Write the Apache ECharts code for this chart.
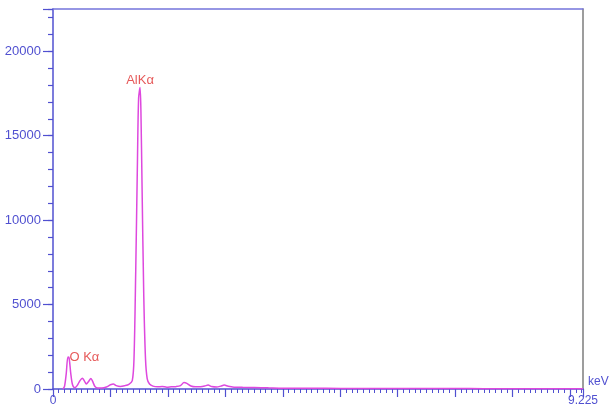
<!DOCTYPE html>
<html>
<head>
<meta charset="utf-8">
<script src="https://cdn.jsdelivr.net/npm/echarts@6/dist/echarts.min.js"></script>
<style>
  html, body { margin: 0; padding: 0; background: #ffffff; }
  #chart { width: 612px; height: 410px; }
</style>
</head>
<body>
<div id="chart"></div>
<script>
// EDS spectrum: energy (keV) vs counts
const energyKeV = [
  0.17, 0.20, 0.23, 0.26, 0.28, 0.31, 0.34, 0.38, 0.42, 0.47,
  0.51, 0.55, 0.58, 0.62, 0.66, 0.69, 0.73, 0.78, 0.85, 0.93,
  1.00, 1.05, 1.10, 1.17, 1.25, 1.32, 1.38, 1.41, 1.44, 1.47,
  1.49, 1.515, 1.53, 1.55, 1.58, 1.61, 1.64, 1.68, 1.74, 1.82,
  1.90, 1.98, 2.06, 2.14, 2.22, 2.28, 2.33, 2.40, 2.48, 2.57,
  2.64, 2.70, 2.76, 2.85, 2.92, 2.98, 3.05, 3.15, 3.30, 3.50,
  3.75, 4.00, 4.50, 5.00, 5.50, 6.00, 6.50, 7.00, 7.50, 8.00,
  8.50, 9.00, 9.225
];
const counts = [
  0, 150, 900, 1900, 1850, 900, 250, 80, 200, 500,
  640, 450, 300, 450, 620, 450, 150, 60, 60, 120,
  250, 300, 200, 150, 200, 280, 500, 1800, 7000, 13500,
  17200, 17850, 16500, 12000, 5500, 1800, 600, 300, 170, 130,
  150, 110, 130, 140, 200, 380, 330, 180, 130, 140,
  180, 230, 150, 120, 170, 230, 160, 110, 100, 90,
  70, 50, 40, 35, 30, 30, 25, 25, 20, 20,
  20, 15, 15
];

// Peak identifications
const peakNames = ['AlKα', 'O Kα'];
const peakEnergy = [1.515, 0.26];
const peakCounts = [17850, 1900];

// Axis settings
const xMax = 9.225;
const yMax = 22500;
const xEndLabels = ['0', '9.225'];

const blue = '#5050d0';
const magenta = '#de48de';
const red = '#e03030';
const fontFamily = 'Liberation Sans, Arial, sans-serif';

const spectrum = energyKeV.map((e, i) => [e, counts[i]]);
const peaks = peakNames.map((n, i) => ({
  value: [peakEnergy[i], peakCounts[i]],
  name: n,
  label: i === 0
    ? { position: 'top', distance: 0 }
    : { position: 'right', distance: 1, offset: [0, 1] }
}));

const chart = echarts.init(document.getElementById('chart'), null, { renderer: 'canvas' });

chart.setOption({
  animation: false,
  backgroundColor: '#ffffff',
  grid: { left: 53, right: 29, top: 9, bottom: 21, containLabel: false },
  xAxis: [
    {
      type: 'value', position: 'bottom', min: 0, max: xMax, interval: 1,
      name: 'keV', nameLocation: 'end', nameGap: 5,
      nameTextStyle: { color: blue, fontSize: 12, fontFamily: fontFamily, verticalAlign: 'bottom', padding: [0, 0, 1, 0] },
      axisLine: { show: true, onZero: false, lineStyle: { color: blue, width: 1.5 } },
      axisTick: { show: true, inside: false, length: 8, lineStyle: { color: blue, width: 1.2 } },
      axisLabel: {
        show: true, margin: 6, color: blue, fontSize: 12, fontFamily: fontFamily,
        showMinLabel: true, showMaxLabel: true,
        formatter: function (v) {
          if (Math.abs(v) < 1e-9) return xEndLabels[0];
          if (Math.abs(v - xMax) < 1e-9) return xEndLabels[1];
          return '';
        }
      },
      splitLine: { show: false }
    },
    {
      type: 'value', position: 'bottom', min: 0, max: xMax, interval: 0.1,
      axisLine: { show: false, onZero: false },
      axisTick: { show: true, inside: false, length: 4, lineStyle: { color: blue, width: 1 } },
      axisLabel: { show: false },
      splitLine: { show: false }
    },
    {
      type: 'value', position: 'top', min: 0, max: xMax,
      axisLine: { show: true, onZero: false, lineStyle: { color: '#7474dc', width: 1.5 } },
      axisTick: { show: false }, axisLabel: { show: false }, splitLine: { show: false }
    }
  ],
  yAxis: [
    {
      type: 'value', position: 'left', min: 0, max: yMax, interval: 5000,
      axisLine: { show: true, onZero: false, lineStyle: { color: blue, width: 1.5 } },
      axisTick: { show: true, inside: false, length: 10, lineStyle: { color: blue, width: 1.2 } },
      axisLabel: {
        show: true, margin: 12, color: blue, fontSize: 13, fontFamily: fontFamily,
        formatter: function (v) { return v % 5000 === 0 ? String(v) : ''; }
      },
      splitLine: { show: false }
    },
    {
      type: 'value', position: 'left', min: 0, max: yMax, interval: 1000,
      axisLine: { show: false, onZero: false },
      axisTick: { show: true, inside: false, length: 5, lineStyle: { color: blue, width: 1.2 } },
      axisLabel: { show: false },
      splitLine: { show: false }
    },
    {
      type: 'value', position: 'right', min: 0, max: yMax,
      axisLine: { show: true, onZero: false, lineStyle: { color: '#7c7c7c', width: 1.5 } },
      axisTick: { show: false }, axisLabel: { show: false }, splitLine: { show: false }
    }
  ],
  series: [
    {
      type: 'line', name: 'spectrum', xAxisIndex: 0, yAxisIndex: 0,
      data: spectrum, showSymbol: false, symbol: 'none', smooth: 0.3,
      lineStyle: { color: magenta, width: 1.5 },
      z: 3
    },
    {
      type: 'scatter', name: 'peaks', xAxisIndex: 0, yAxisIndex: 0,
      data: peaks, symbolSize: 1,
      itemStyle: { color: 'rgba(0,0,0,0)' },
      label: {
        show: true, color: red, fontSize: 13, fontFamily: fontFamily,
        formatter: function (p) { return p.name; }
      },
      z: 4
    }
  ]
});
</script>
</body>
</html>
